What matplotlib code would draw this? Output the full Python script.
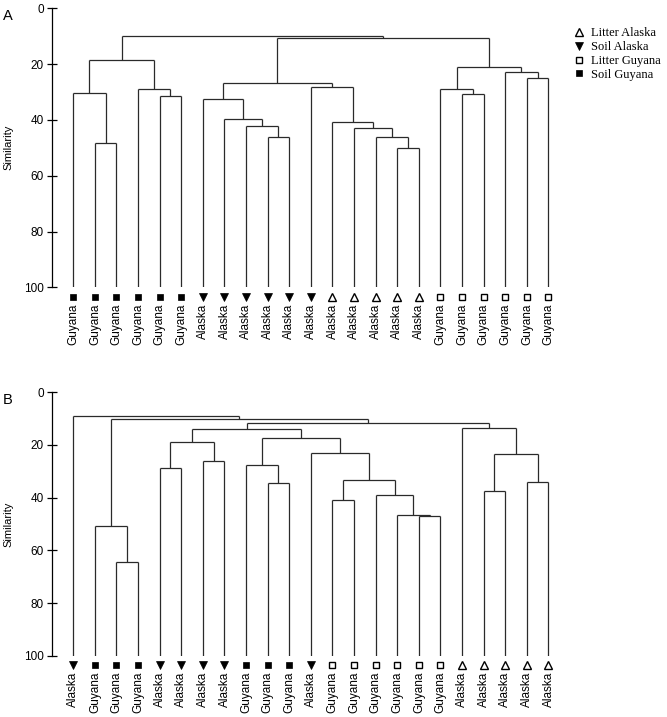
import matplotlib

matplotlib.use("Agg")
import matplotlib.pyplot as plt
import matplotlib.transforms as mtransforms
from matplotlib.lines import Line2D

plt.rcParams["font.family"] = ["Liberation Sans", "DejaVu Sans"]

# leaf groups, left to right
A_GROUPS = (
    ["Soil Guyana"] * 6
    + ["Soil Alaska"] * 6
    + ["Litter Alaska"] * 5
    + ["Litter Guyana"] * 6
)
B_GROUPS = [
    "Soil Alaska",
    "Soil Guyana", "Soil Guyana", "Soil Guyana",
    "Soil Alaska", "Soil Alaska", "Soil Alaska", "Soil Alaska",
    "Soil Guyana", "Soil Guyana", "Soil Guyana",
    "Soil Alaska",
] + ["Litter Guyana"] * 6 + ["Litter Alaska"] * 5

# merges (child a, child b, similarity); leaves are 0..n-1, merge k is n+k
A_MERGES = [
    (1, 2, 48.4), (0, 23, 30.4), (4, 5, 31.5), (3, 25, 28.8), (24, 26, 18.5),
    (9, 10, 46.0), (8, 28, 42.1), (7, 29, 39.7), (6, 30, 32.4),
    (15, 16, 50.2), (14, 32, 46.2), (13, 33, 43.0), (12, 34, 40.6),
    (11, 35, 28.3), (31, 36, 26.8),
    (18, 19, 30.6), (17, 38, 29.0), (21, 22, 25.1), (20, 40, 22.9),
    (39, 41, 21.1), (37, 42, 10.5), (27, 43, 9.8),
]
B_MERGES = [
    (2, 3, 64.4), (1, 23, 50.6), (4, 5, 28.6), (6, 7, 26.1), (25, 26, 19.0),
    (9, 10, 34.5), (8, 28, 27.5), (12, 13, 41.0), (16, 17, 46.8),
    (15, 31, 46.6), (14, 32, 38.9), (30, 33, 33.4), (11, 34, 23.2),
    (29, 35, 17.4), (27, 36, 14.0), (19, 20, 37.6), (21, 22, 34.2),
    (38, 39, 23.5), (18, 40, 13.4), (37, 41, 11.8), (24, 42, 10.0),
    (0, 43, 9.1),
]

LEGEND_ORDER = ["Litter Alaska", "Soil Alaska", "Litter Guyana", "Soil Guyana"]
STYLES = {
    "Litter Alaska": dict(marker="^", mfc="white", mec="black", ms=5.5, mew=1.0),
    "Soil Alaska": dict(marker="v", mfc="black", mec="black", ms=5.5, mew=0.5),
    "Litter Guyana": dict(marker="s", mfc="white", mec="black", ms=4.6, mew=1.0),
    "Soil Guyana": dict(marker="s", mfc="black", mec="black", ms=4.6, mew=0.5),
}
LINE_COLOR = "#2a2a2a"


def draw_dendrogram(ax, fig, groups, merges, panel):
    n = len(groups)
    xs = list(range(n))
    hs = [100.0] * n
    for a, b, h in merges:
        for c in (a, b):
            ax.plot([xs[c], xs[c]], [hs[c], h], color=LINE_COLOR, lw=0.9,
                    solid_capstyle="butt")
        ax.plot([xs[a], xs[b]], [h, h], color=LINE_COLOR, lw=0.9,
                solid_capstyle="butt")
        xs.append((xs[a] + xs[b]) / 2)
        hs.append(h)

    ax.set_xlim(-1, 23)
    ax.set_ylim(100, 0)
    ax.set_yticks(range(0, 101, 20))
    ax.tick_params(axis="y", direction="inout", length=6.5, width=0.9,
                   labelsize=8.5, pad=2.5)
    ax.set_ylabel("Similarity", fontsize=8, labelpad=7.5)

    sites = [g.split()[1] for g in groups]
    ax.set_xticks(range(n))
    ax.set_xticklabels(sites, rotation=90, fontsize=8.5, va="top")
    ax.tick_params(axis="x", length=0, pad=11.5)

    for side in ("top", "right", "bottom"):
        ax.spines[side].set_visible(False)
    ax.spines["left"].set_linewidth(0.9)

    trans = mtransforms.offset_copy(ax.get_xaxis_transform(), fig=fig,
                                    y=-6.8, units="points")
    for g in LEGEND_ORDER:
        idx = [i for i, gg in enumerate(groups) if gg == g]
        ax.plot(idx, [0] * len(idx), ls="none", transform=trans,
                clip_on=False, **STYLES[g])

    ax.text(-0.085, 0.998, panel, transform=ax.transAxes, fontsize=10.5,
            ha="center", va="top")


fig = plt.figure(figsize=(6.67, 7.17), dpi=100)
ax_a = fig.add_axes([0.0775, 0.5993, 0.7772, 0.3891])
ax_b = fig.add_axes([0.0775, 0.0855, 0.7772, 0.3674])

draw_dendrogram(ax_a, fig, A_GROUPS, A_MERGES, "A")
draw_dendrogram(ax_b, fig, B_GROUPS, B_MERGES, "B")

handles = [Line2D([], [], ls="none", **STYLES[g]) for g in LEGEND_ORDER]
fig.legend(handles, LEGEND_ORDER, loc="upper left",
           bbox_to_anchor=(0.858, 0.962), frameon=False, borderpad=0,
           borderaxespad=0, handlelength=1.0, handletextpad=0.5,
           labelspacing=0.15,
           prop={"family": "Liberation Serif", "size": 9})

fig.savefig("out.png", dpi=100)
